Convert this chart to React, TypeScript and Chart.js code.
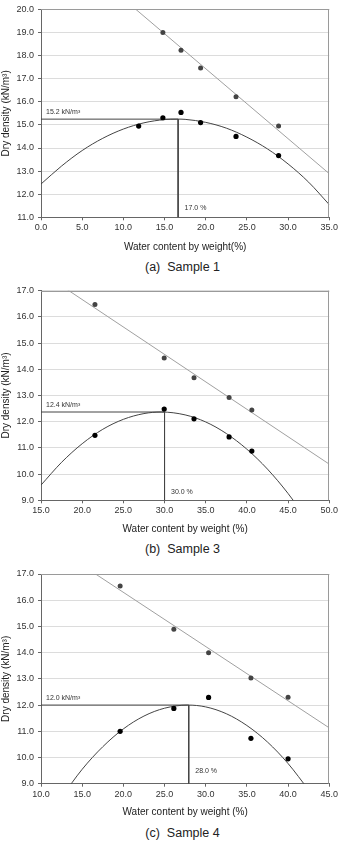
import React, { useEffect, useRef } from "react";
import { Chart, registerables } from "chart.js";

Chart.register(...registerables);

const FONT = "'Liberation Sans', Arial, Helvetica, sans-serif";
const Y_TITLE = "Dry density (kN/m³)";

// ---------- Sample 1 ----------
const s1Water = [11.86, 14.8, 17.0, 19.38, 23.68, 28.85];
const s1Dry = [14.95, 15.31, 15.54, 15.1, 14.5, 13.67];
const s1ZavWater = [14.8, 17.0, 19.38, 23.68, 28.85];
const s1Zav = [19.0, 18.23, 17.46, 16.22, 14.95];
const s1ZavLineX = [0, 35];
const s1ZavLineY = [23.49, 12.89];
const s1CurveX = [0, 2.5, 5, 7.5, 10, 12.5, 15, 16.5, 17.5, 20, 22.5, 25, 27.5, 30, 32.5, 35];
const s1CurveY = [12.44, 13.22, 13.89, 14.42, 14.82, 15.09, 15.23, 15.25, 15.24, 15.11, 14.86, 14.47, 13.96, 13.31, 12.52, 11.55];
const s1Opt = [16.65, 15.25];
const s1OptLabels = ["15.2 kN/m³", "17.0 %"];
const s1XRange = [0, 35, 5];
const s1YRange = [11, 20, 1];

// ---------- Sample 3 ----------
const s3Water = [21.55, 29.96, 33.58, 37.84, 40.6];
const s3Dry = [11.48, 12.48, 12.11, 11.42, 10.88];
const s3Zav = [16.47, 14.43, 13.68, 12.92, 12.45];
const s3ZavLineX = [15, 50];
const s3ZavLineY = [17.71, 10.38];
const s3CurveX = [15, 17.5, 20, 22.5, 25, 27.5, 29.6, 32.5, 35, 37.5, 40, 42.5, 45, 47.5];
const s3CurveY = [9.58, 10.45, 11.16, 11.71, 12.09, 12.31, 12.37, 12.26, 11.99, 11.55, 10.95, 10.19, 9.26, 8.17];
const s3Opt = [30.0, 12.37];
const s3OptLabels = ["12.4 kN/m³", "30.0 %"];
const s3XRange = [15, 50, 5];
const s3YRange = [9, 17, 1];

// ---------- Sample 4 ----------
const s4Water = [19.61, 26.13, 30.35, 35.49, 40.0];
const s4Dry = [11.0, 11.87, 12.29, 10.73, 9.95];
const s4Zav = [16.54, 14.89, 14.0, 13.03, 12.3];
const s4ZavLineX = [10, 45];
const s4ZavLineY = [18.37, 11.13];
const s4CurveX = [12.5, 15, 17.5, 20, 22.5, 25, 27.8, 30, 32.5, 35, 37.5, 40, 42.5];
const s4CurveY = [8.49, 9.55, 10.41, 11.09, 11.58, 11.88, 12.0, 11.93, 11.67, 11.22, 10.59, 9.77, 8.76];
const s4Opt = [27.94, 12.0];
const s4OptLabels = ["12.0 kN/m³", "28.0 %"];
const s4XRange = [10, 45, 5];
const s4YRange = [9, 17, 1];

type PanelProps = {
  top: number;
  plotTop: number;
  plotBottom: number;
  titleY: number;
  water: number[];
  dry: number[];
  zavWater: number[];
  zav: number[];
  lineX: number[];
  lineY: number[];
  curveX: number[];
  curveY: number[];
  opt: number[];
  optLabels: string[];
  xRange: number[];
  yRange: number[];
  xTitle: string;
  pctLift: number;
};

const pts = (xs: number[], ys: number[]) => xs.map((x, i) => ({ x, y: ys[i] }));

function Panel(p: PanelProps) {
  const ref = useRef<HTMLCanvasElement>(null);
  const height = Math.round(p.titleY + 6 - p.top);

  useEffect(() => {
    if (!ref.current) return;
    const xAxisH = p.top + height - p.plotBottom;
    const framePlugin = {
      id: "frameAndLabels",
      afterDatasetsDraw(chart: any) {
        const { ctx, chartArea: a, scales } = chart;
        ctx.save();
        ctx.strokeStyle = "#9a9a9a";
        ctx.lineWidth = 1;
        ctx.beginPath();
        ctx.moveTo(a.left, Math.round(a.top) + 0.5);
        ctx.lineTo(a.right, Math.round(a.top) + 0.5);
        ctx.moveTo(Math.round(a.right) - 0.5, a.top);
        ctx.lineTo(Math.round(a.right) - 0.5, a.bottom);
        ctx.stroke();
        ctx.fillStyle = "#333";
        ctx.font = `7px ${FONT}`;
        ctx.textAlign = "left";
        ctx.textBaseline = "alphabetic";
        const yPix = scales.y.getPixelForValue(p.opt[1]);
        const xPix = scales.x.getPixelForValue(p.opt[0]);
        ctx.fillText(p.optLabels[0], a.left + 5, yPix - 5.5);
        ctx.fillText(p.optLabels[1], xPix + 6.5, a.bottom - p.pctLift);
        ctx.restore();
      },
    };

    const chart = new Chart(ref.current, {
      type: "scatter",
      data: {
        datasets: [
          {
            label: "Dry density",
            data: pts(p.water, p.dry),
            backgroundColor: "#000",
            borderColor: "#000",
            pointRadius: 2.6,
            pointBorderWidth: 0,
            showLine: false,
          },
          {
            label: "Zero air voids",
            data: pts(p.zavWater, p.zav),
            backgroundColor: "#444",
            borderColor: "#444",
            pointRadius: 2.5,
            pointBorderWidth: 0,
            showLine: false,
          },
          {
            label: "Optimum",
            data: [
              { x: p.xRange[0], y: p.opt[1] },
              { x: p.opt[0], y: p.opt[1] },
              { x: p.opt[0], y: p.yRange[0] },
            ],
            showLine: true,
            borderColor: "#444",
            borderWidth: 1,
            pointRadius: 0,
            fill: false,
          },
          {
            label: "Compaction curve",
            data: pts(p.curveX, p.curveY),
            showLine: true,
            borderColor: "#444",
            borderWidth: 1,
            pointRadius: 0,
            cubicInterpolationMode: "monotone",
            fill: false,
          },
          {
            label: "Saturation line",
            data: pts(p.lineX, p.lineY),
            showLine: true,
            borderColor: "#a0a0a0",
            borderWidth: 1,
            pointRadius: 0,
            fill: false,
          },
        ],
      },
      options: {
        responsive: false,
        animation: false,
        events: [],
        layout: { padding: { top: p.plotTop - p.top, right: 9, bottom: 0, left: 0 } },
        plugins: {
          legend: { display: false },
          tooltip: { enabled: false },
          title: { display: false },
        },
        scales: {
          x: {
            type: "linear",
            min: p.xRange[0],
            max: p.xRange[1],
            afterFit: (s: any) => {
              s.height = xAxisH;
            },
            ticks: {
              stepSize: p.xRange[2],
              color: "#333",
              font: { family: FONT, size: 9 },
              padding: 2,
              maxRotation: 0,
              callback: (v: any) => Number(v).toFixed(1),
            },
            grid: {
              drawOnChartArea: false,
              drawTicks: true,
              tickLength: 3,
              tickColor: "#666",
            },
            border: { color: "#666", width: 1 },
            title: {
              display: true,
              text: p.xTitle,
              color: "#222",
              font: { family: FONT, size: 10 },
              padding: { top: 0, bottom: 0 },
            },
          },
          y: {
            type: "linear",
            min: p.yRange[0],
            max: p.yRange[1],
            afterFit: (s: any) => {
              s.width = 41;
            },
            ticks: {
              stepSize: p.yRange[2],
              color: "#333",
              font: { family: FONT, size: 9 },
              padding: 4,
              callback: (v: any) => Number(v).toFixed(1),
            },
            grid: {
              color: "#dcdcdc",
              drawTicks: true,
              tickLength: 3,
              tickColor: "#666",
            },
            border: { color: "#666", width: 1 },
            title: {
              display: true,
              text: Y_TITLE,
              color: "#222",
              font: { family: FONT, size: 10 },
              padding: { top: 0, bottom: 0 },
            },
          },
        },
      },
      plugins: [framePlugin],
    } as any);
    return () => chart.destroy();
  }, []);

  return (
    <canvas
      ref={ref}
      width={340}
      height={height}
      style={{ position: "absolute", left: 0, top: p.top, width: 340, height, display: "block" }}
    />
  );
}

function Caption({ text, y }: { text: string; y: number }) {
  return (
    <div
      style={{
        position: "absolute",
        left: 182.5,
        top: y,
        transform: "translate(-50%, -50%)",
        fontFamily: FONT,
        fontSize: 12.5,
        lineHeight: "14px",
        color: "#222",
        whiteSpace: "pre",
      }}
    >
      {text}
    </div>
  );
}

export default function App() {
  return (
    <div
      style={{
        position: "absolute",
        left: 0,
        top: 0,
        width: 340,
        height: 847,
        background: "#fff",
        overflow: "hidden",
      }}
    >
      <Panel
        top={0}
        plotTop={9}
        plotBottom={217.3}
        titleY={246.7}
        water={s1Water}
        dry={s1Dry}
        zavWater={s1ZavWater}
        zav={s1Zav}
        lineX={s1ZavLineX}
        lineY={s1ZavLineY}
        curveX={s1CurveX}
        curveY={s1CurveY}
        opt={s1Opt}
        optLabels={s1OptLabels}
        xRange={s1XRange}
        yRange={s1YRange}
        xTitle="Water content by weight(%)"
        pctLift={7}
      />
      <Caption text="(a)  Sample 1" y={267} />
      <Panel
        top={280}
        plotTop={290.7}
        plotBottom={500.3}
        titleY={529}
        water={s3Water}
        dry={s3Dry}
        zavWater={s3Water}
        zav={s3Zav}
        lineX={s3ZavLineX}
        lineY={s3ZavLineY}
        curveX={s3CurveX}
        curveY={s3CurveY}
        opt={s3Opt}
        optLabels={s3OptLabels}
        xRange={s3XRange}
        yRange={s3YRange}
        xTitle="Water content by weight (%)"
        pctLift={6}
      />
      <Caption text="(b)  Sample 3" y={549.3} />
      <Panel
        top={564}
        plotTop={574}
        plotBottom={783.7}
        titleY={812}
        water={s4Water}
        dry={s4Dry}
        zavWater={s4Water}
        zav={s4Zav}
        lineX={s4ZavLineX}
        lineY={s4ZavLineY}
        curveX={s4CurveX}
        curveY={s4CurveY}
        opt={s4Opt}
        optLabels={s4OptLabels}
        xRange={s4XRange}
        yRange={s4YRange}
        xTitle="Water content by weight (%)"
        pctLift={10.5}
      />
      <Caption text="(c)  Sample 4" y={833.3} />
    </div>
  );
}
